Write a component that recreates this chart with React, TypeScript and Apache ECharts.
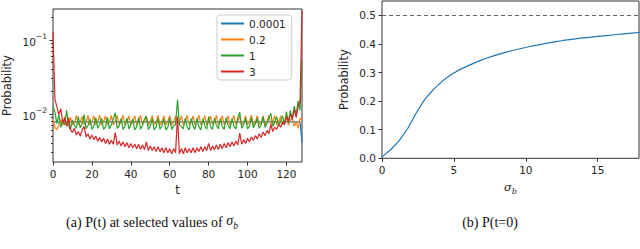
import React, { useEffect, useRef } from "react";
import * as echarts from "echarts";

// ---- Left chart: P(t) at selected values of sigma_b (t = 0..128) ----
const seriesNames = ["0.0001", "0.2", "1", "3"];
const seriesColors = ["#1f77b4", "#ff7f0e", "#2ca02c", "#d62728"];

const pSigma00001 = [
  0.0078, 0.0078, 0.0078, 0.0078, 0.0078, 0.0078, 0.0078, 0.0078,
  0.0078, 0.0078, 0.0078, 0.0078, 0.0078, 0.0078, 0.0078, 0.0078,
  0.0078, 0.0078, 0.0078, 0.0078, 0.0078, 0.0078, 0.0078, 0.0078,
  0.0078, 0.0078, 0.0078, 0.0078, 0.0078, 0.0078, 0.0078, 0.0078,
  0.0078, 0.0078, 0.0078, 0.0078, 0.0078, 0.0078, 0.0078, 0.0078,
  0.0078, 0.0078, 0.0078, 0.0078, 0.0078, 0.0078, 0.0078, 0.0078,
  0.0078, 0.0078, 0.0078, 0.0078, 0.0078, 0.0078, 0.0078, 0.0078,
  0.0078, 0.0078, 0.0078, 0.0078, 0.0078, 0.0078, 0.0078, 0.0078,
  0.0078, 0.0078, 0.0078, 0.0078, 0.0078, 0.0078, 0.0078, 0.0078,
  0.0078, 0.0078, 0.0078, 0.0078, 0.0078, 0.0078, 0.0078, 0.0078,
  0.0078, 0.0078, 0.0078, 0.0078, 0.0078, 0.0078, 0.0078, 0.0078,
  0.0078, 0.0078, 0.0078, 0.0078, 0.0078, 0.0078, 0.0078, 0.0078,
  0.0078, 0.0078, 0.0078, 0.0078, 0.0078, 0.0078, 0.0078, 0.0078,
  0.0078, 0.0078, 0.0078, 0.0078, 0.0078, 0.0078, 0.0078, 0.0078,
  0.0078, 0.0078, 0.0078, 0.0078, 0.0078, 0.0078, 0.0078, 0.0078,
  0.0078, 0.0078, 0.0078, 0.0078, 0.0078, 0.0078, 0.0078, 0.0078,
  0.0041,
];

const pSigma02 = [
  0.0085, 0.0066, 0.0061, 0.0072, 0.0084, 0.0070, 0.0092, 0.0074,
  0.0069, 0.0090, 0.0072, 0.0076, 0.0095, 0.0071, 0.0078, 0.0093,
  0.0072, 0.0077, 0.0096, 0.0071, 0.0079, 0.0094, 0.0072, 0.0078,
  0.0096, 0.0071, 0.0079, 0.0094, 0.0072, 0.0077, 0.0096, 0.0071,
  0.0079, 0.0095, 0.0072, 0.0078, 0.0096, 0.0071, 0.0079, 0.0094,
  0.0072, 0.0077, 0.0095, 0.0071, 0.0078, 0.0096, 0.0072, 0.0078,
  0.0094, 0.0071, 0.0079, 0.0095, 0.0072, 0.0077, 0.0096, 0.0071,
  0.0079, 0.0094, 0.0072, 0.0078, 0.0095, 0.0071, 0.0077, 0.0093,
  0.0074, 0.0076, 0.0095, 0.0071, 0.0078, 0.0096, 0.0072, 0.0077,
  0.0094, 0.0071, 0.0079, 0.0096, 0.0072, 0.0078, 0.0095, 0.0071,
  0.0077, 0.0094, 0.0072, 0.0079, 0.0096, 0.0071, 0.0078, 0.0095,
  0.0072, 0.0077, 0.0094, 0.0071, 0.0079, 0.0096, 0.0072, 0.0078,
  0.0095, 0.0071, 0.0077, 0.0094, 0.0072, 0.0079, 0.0096, 0.0071,
  0.0078, 0.0095, 0.0072, 0.0077, 0.0094, 0.0071, 0.0079, 0.0096,
  0.0072, 0.0078, 0.0095, 0.0071, 0.0077, 0.0094, 0.0072, 0.0080,
  0.0094, 0.0071, 0.0082, 0.0090, 0.0068, 0.0078, 0.0064, 0.0088,
  0.0083,
];

const pSigma1 = [
  0.0128, 0.0105, 0.0074, 0.0098, 0.0066, 0.0080, 0.0071, 0.0112,
  0.0069, 0.0062, 0.0082, 0.0071, 0.0064, 0.0093, 0.0065, 0.0074,
  0.0098, 0.0063, 0.0070, 0.0086, 0.0062, 0.0068, 0.0089, 0.0064,
  0.0072, 0.0087, 0.0062, 0.0067, 0.0090, 0.0063, 0.0071, 0.0086,
  0.0104, 0.0064, 0.0069, 0.0087, 0.0062, 0.0068, 0.0088, 0.0063,
  0.0071, 0.0086, 0.0061, 0.0067, 0.0089, 0.0062, 0.0070, 0.0085,
  0.0093, 0.0062, 0.0068, 0.0087, 0.0061, 0.0067, 0.0088, 0.0062,
  0.0070, 0.0086, 0.0061, 0.0066, 0.0088, 0.0062, 0.0069, 0.0072,
  0.0156, 0.0071, 0.0068, 0.0063, 0.0088, 0.0066, 0.0061, 0.0087,
  0.0069, 0.0062, 0.0088, 0.0067, 0.0061, 0.0086, 0.0070, 0.0062,
  0.0092, 0.0067, 0.0062, 0.0088, 0.0070, 0.0063, 0.0087, 0.0068,
  0.0062, 0.0089, 0.0071, 0.0063, 0.0087, 0.0068, 0.0063, 0.0089,
  0.0106, 0.0064, 0.0071, 0.0088, 0.0063, 0.0069, 0.0090, 0.0065,
  0.0073, 0.0088, 0.0064, 0.0071, 0.0093, 0.0066, 0.0074, 0.0089,
  0.0102, 0.0068, 0.0077, 0.0092, 0.0070, 0.0080, 0.0095, 0.0072,
  0.0108, 0.0076, 0.0112, 0.0084, 0.0128, 0.0098, 0.0150, 0.0112,
  0.052,
];

const pSigma3 = [
  0.128, 0.0158, 0.0125, 0.0098, 0.0118, 0.0076, 0.0088, 0.0068,
  0.0089, 0.0061, 0.0056, 0.0064, 0.0052, 0.0058, 0.0050, 0.0061,
  0.0068, 0.0049, 0.0054, 0.0046, 0.0052, 0.0045, 0.0050, 0.0043,
  0.0048, 0.0042, 0.0047, 0.0040, 0.0046, 0.0039, 0.0044, 0.0039,
  0.0056, 0.0038, 0.0043, 0.0037, 0.0042, 0.0036, 0.0041, 0.0035,
  0.0040, 0.0035, 0.0039, 0.0034, 0.0039, 0.0033, 0.0038, 0.0033,
  0.0042, 0.0032, 0.0037, 0.0032, 0.0036, 0.0031, 0.0036, 0.0031,
  0.0035, 0.0030, 0.0035, 0.0030, 0.0034, 0.0029, 0.0034, 0.0030,
  0.0092, 0.0029, 0.0034, 0.0029, 0.0035, 0.0030, 0.0034, 0.0030,
  0.0035, 0.0030, 0.0035, 0.0031, 0.0036, 0.0031, 0.0036, 0.0032,
  0.0040, 0.0032, 0.0037, 0.0033, 0.0038, 0.0033, 0.0039, 0.0034,
  0.0040, 0.0035, 0.0041, 0.0036, 0.0042, 0.0037, 0.0043, 0.0038,
  0.0055, 0.0039, 0.0045, 0.0040, 0.0047, 0.0042, 0.0049, 0.0044,
  0.0051, 0.0046, 0.0054, 0.0048, 0.0057, 0.0051, 0.0060, 0.0054,
  0.0072, 0.0058, 0.0066, 0.0062, 0.0072, 0.0066, 0.0078, 0.0072,
  0.0092, 0.0079, 0.0098, 0.0086, 0.0115, 0.0090, 0.0125, 0.0150,
  0.250,
];

const leftXTicks = [0, 20, 40, 60, 80, 100, 120];
const leftYMajorTicks = [0.01, 0.1];
const leftYMajorExponents = ["−2", "−1"];
const leftYMinorTicks = [
  0.003, 0.004, 0.005, 0.006, 0.007, 0.008, 0.009,
  0.02, 0.03, 0.04, 0.05, 0.06, 0.07, 0.08, 0.09, 0.2,
];

// ---- Right chart: P(t=0) vs sigma_b ----
const sigmaB = [
  0, 0.6, 1.2, 1.8, 2.4, 3.0, 3.6, 4.2, 4.8, 5.4, 6.0, 6.6, 7.2, 7.8, 8.4,
  9.0, 9.6, 10.2, 10.8, 11.4, 12.0, 12.6, 13.2, 13.8, 14.4, 15.0, 15.6,
  16.2, 16.8, 17.4, 18.0,
];
const pT0 = [
  0.005, 0.03, 0.062, 0.105, 0.16, 0.208, 0.242, 0.27, 0.292, 0.31, 0.324,
  0.337, 0.349, 0.359, 0.368, 0.376, 0.383, 0.39, 0.396, 0.402, 0.407,
  0.412, 0.416, 0.42, 0.423, 0.426, 0.429, 0.432, 0.435, 0.438, 0.441,
];
const refLine = 0.5;
const rightXTicks = [0, 5, 10, 15];
const rightYTicks = [0, 0.1, 0.2, 0.3, 0.4, 0.5];

const FONT = "DejaVu Sans";
const INK = "#262626";
const TICK_SIZE = 10.5;

export default function App() {
  const ref = useRef<HTMLDivElement>(null);

  useEffect(() => {
    if (!ref.current) return;
    const chart = echarts.init(ref.current, undefined, { renderer: "svg" });
    const tData = pSigma00001.map((_, i) => i);
    const leftSeries = [pSigma00001, pSigma02, pSigma1, pSigma3].map((arr, k) => ({
      name: seriesNames[k],
      type: "line",
      xAxisIndex: 0,
      yAxisIndex: 0,
      data: arr.map((v, i) => [tData[i], v]),
      showSymbol: false,
      symbol: "none",
      lineStyle: { color: seriesColors[k], width: 1.2 },
      itemStyle: { color: seriesColors[k] },
      z: 3 + k,
    }));

    const option: any = {
      animation: false,
      textStyle: { fontFamily: FONT },
      grid: [
        { left: 52, top: 9, width: 250, height: 153, show: true, borderColor: "#333", borderWidth: 1, backgroundColor: "transparent" },
        { left: 382, top: 1, width: 257, height: 157.3, show: true, borderColor: "#333", borderWidth: 1, backgroundColor: "transparent" },
      ],
      xAxis: [
        {
          gridIndex: 0, type: "value", min: 0, max: 128,
          name: "t", nameLocation: "middle", nameGap: 22,
          nameTextStyle: { fontFamily: FONT, fontSize: 11.5, color: INK },
          axisLine: { show: false },
          splitLine: { show: false },
          axisTick: { show: true, length: 3.5, customValues: leftXTicks, lineStyle: { color: "#333" } },
          axisLabel: { customValues: leftXTicks, fontFamily: FONT, fontSize: TICK_SIZE, color: INK, margin: 6 },
        },
        {
          gridIndex: 1, type: "value", min: 0, max: 17.87,
          name: "{s|σ}{b|b}", nameLocation: "middle", nameGap: 23,
          nameTextStyle: {
            color: INK,
            rich: {
              s: { fontFamily: "DejaVu Serif", fontStyle: "italic", fontSize: 11.5, lineHeight: 14, verticalAlign: "top", color: INK },
              b: { fontFamily: "DejaVu Serif", fontStyle: "italic", fontSize: 8, lineHeight: 8, verticalAlign: "bottom", color: INK },
            },
          },
          axisLine: { show: false },
          splitLine: { show: false },
          axisTick: { show: true, length: 3.5, customValues: rightXTicks, lineStyle: { color: "#333" } },
          axisLabel: { customValues: rightXTicks, fontFamily: FONT, fontSize: TICK_SIZE, color: INK, margin: 6 },
        },
      ],
      yAxis: [
        {
          gridIndex: 0, type: "log", logBase: 10, min: 0.002244, max: 0.262, position: "left",
          name: "Probability", nameLocation: "middle", nameGap: 40, nameRotate: 90,
          nameTextStyle: { fontFamily: FONT, fontSize: 11.5, color: INK },
          axisLine: { show: false },
          splitLine: { show: false },
          minorTick: { show: false },
          axisTick: { show: true, length: 3.5, customValues: leftYMajorTicks, lineStyle: { color: "#333" } },
          axisLabel: {
            customValues: leftYMajorTicks,
            fontFamily: FONT, fontSize: TICK_SIZE, color: INK, margin: 6,
            formatter: (v: number) => {
              const idx = leftYMajorTicks.findIndex((t) => Math.abs(Math.log10(t) - Math.log10(v)) < 0.01);
              return idx >= 0 ? "{m|10}{e|" + leftYMajorExponents[idx] + "}" : "";
            },
            rich: {
              m: { fontFamily: FONT, fontSize: TICK_SIZE, lineHeight: 15, verticalAlign: "bottom", color: INK },
              e: { fontFamily: FONT, fontSize: 7.5, lineHeight: 8, verticalAlign: "top", color: INK },
            },
          },
        },
        {
          gridIndex: 0, type: "log", logBase: 10, min: 0.002244, max: 0.262, position: "left",
          axisLine: { show: false },
          splitLine: { show: false },
          axisLabel: { show: false },
          axisTick: { show: true, length: 2, customValues: leftYMinorTicks, lineStyle: { color: "#333" } },
        },
        {
          gridIndex: 1, type: "value", min: 0, max: 0.55, position: "left",
          name: "Probability", nameLocation: "middle", nameGap: 32, nameRotate: 90,
          nameTextStyle: { fontFamily: FONT, fontSize: 11.5, color: INK },
          axisLine: { show: false },
          splitLine: { show: false },
          axisTick: { show: true, length: 3.5, customValues: rightYTicks, lineStyle: { color: "#333" } },
          axisLabel: {
            customValues: rightYTicks,
            fontFamily: FONT, fontSize: TICK_SIZE, color: INK, margin: 6,
            formatter: (v: number) => v.toFixed(1),
          },
        },
      ],
      legend: {
        data: seriesNames,
        orient: "vertical",
        left: 217,
        top: 15,
        icon: "rect",
        itemWidth: 23,
        itemHeight: 2,
        itemGap: 5,
        itemTextGap: 9,
        padding: [3, 6, 3, 4],
        backgroundColor: "#ffffff",
        borderColor: "#cccccc",
        borderWidth: 1,
        borderRadius: 3,
        textStyle: { fontFamily: FONT, fontSize: 10.5, color: INK },
      },
      series: [
        ...leftSeries,
        {
          name: "P(t=0)",
          type: "line",
          xAxisIndex: 1,
          yAxisIndex: 2,
          data: sigmaB.map((s, i) => [s, pT0[i]]),
          showSymbol: false,
          symbol: "none",
          lineStyle: { color: "#1f77b4", width: 1.2 },
          markLine: {
            silent: true,
            symbol: ["none", "none"],
            label: { show: false },
            lineStyle: { color: "#666", type: [4, 3], width: 1 },
            data: [{ yAxis: refLine }],
          },
        },
      ],
      graphic: [
        {
          type: "text",
          x: 152,
          y: 222,
          style: {
            text: "(a) P(t) at selected values of {s|σ}{b|b}",
            align: "center",
            verticalAlign: "middle",
            font: "14px 'Liberation Serif'",
            fill: "#111",
            rich: {
              s: { fontFamily: "Liberation Serif", fontStyle: "italic", fontSize: 14, lineHeight: 17, verticalAlign: "top", fill: "#111" },
              b: { fontFamily: "Liberation Serif", fontStyle: "italic", fontSize: 9.5, lineHeight: 10, verticalAlign: "bottom", fill: "#111" },
            },
          },
        },
        {
          type: "text",
          x: 490,
          y: 222,
          style: {
            text: "(b) P(t=0)",
            align: "center",
            verticalAlign: "middle",
            font: "14px 'Liberation Serif'",
            fill: "#111",
          },
        },
      ],
    };
    chart.setOption(option);
    return () => chart.dispose();
  }, []);

  return (
    <div
      ref={ref}
      style={{ position: "fixed", left: 0, top: 0, width: 640, height: 249, background: "#fff" }}
    />
  );
}
